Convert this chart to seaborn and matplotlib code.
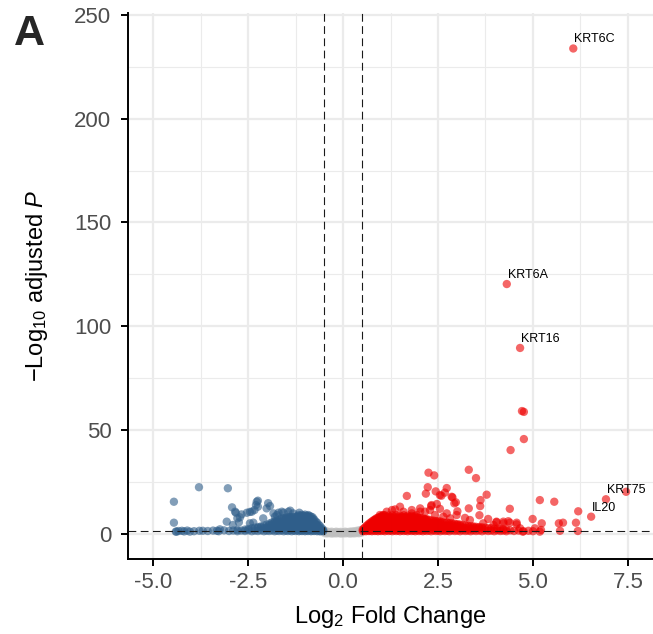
#!/usr/bin/env python

import pandas as pd
import matplotlib
matplotlib.use('Agg')
import seaborn as sns
import matplotlib.pyplot as plt

# thresholds used for the dashed guide lines
lfc_cut = 0.5
padj_line = 1.3  # -log10(0.05)

# labelled genes (log2 fold change, -log10 adjusted p)
gene_names = ['KRT6C', 'KRT6A', 'KRT16', 'KRT75', 'IL20']
gene_lfc = [6.06, 4.31, 4.66, 6.92, 6.53]
gene_logp = [233.8, 120.3, 89.5, 16.6, 8.2]

# other up-regulated genes away from the main cloud
up_lfc = [4.71, 4.76, 4.76, 4.41, 7.45, 6.19, 5.18, 5.56, 5.23, 5.21, 5.68, 5.79, 5.71, 6.13, 6.18,
          2.25, 2.40, 3.31, 3.50, 2.23, 2.73, 2.18, 2.44, 2.59, 1.68, 2.88, 3.78, 3.62, 2.97,
          1.50, 2.47, 2.32, 2.55, 3.01, 3.31, 3.61, 4.39, 1.29, 3.21, 3.59, 3.82, 4.04, 4.35,
          4.57, 4.99, 5.05, 5.18, 4.73, 0.97, 1.15, 1.37, 1.59, 1.81, 2.03, 2.16, 1.94, 2.29,
          2.42, 2.64, 2.82, 2.99, 2.73, 3.34, 3.69, 3.96, 4.22, 2.55, 2.68, 1.06, 2.33, 4.66,
          4.39, 4.57, 4.04, 4.22, 2.03, 1.81, 2.86, 2.93]
up_logp = [59.1, 58.7, 45.6, 40.3, 20.2, 10.8, 16.2, 15.4, 5.0, 1.8, 5.0, 5.3, 1.4, 5.3, 1.3,
           29.4, 28.1, 30.8, 26.8, 22.4, 22.0, 19.3, 20.4, 18.3, 18.2, 17.5, 18.8, 16.2, 15.1,
           13.0, 14.3, 13.3, 12.0, 10.8, 12.2, 13.3, 12.0, 11.4, 7.6, 8.9, 7.1, 5.5, 6.0,
           4.5, 7.1, 2.6, 1.0, 1.0, 9.0, 10.6, 11.7, 10.6, 11.4, 12.2, 10.6, 9.0, 11.4,
           9.0, 8.2, 7.4, 9.0, 9.8, 6.6, 5.0, 4.2, 5.0, 18.6, 19.8, 9.0, 13.8, 2.6,
           5.3, 5.3, 5.8, 5.8, 10.6, 9.8, 17.8, 14.6]

# dense up-regulated cloud, one entry per fold-change column
up_band = [
    (0.52, [1.2, 2.0]), (0.56, [1.5, 2.7]), (0.60, [1.2, 2.5, 3.5]),
    (0.64, [1.6, 2.9, 4.1]), (0.68, [1.3, 2.6, 3.9, 4.8]), (0.72, [1.5, 2.8, 4.1, 5.3]),
    (0.76, [1.2, 2.5, 3.8, 5.1, 5.9]), (0.80, [1.6, 2.9, 4.2, 5.5, 6.4]),
    (0.84, [1.3, 2.6, 3.9, 5.2, 6.5, 6.9]), (0.88, [1.5, 2.8, 4.1, 5.4, 6.7, 7.4]),
    (0.92, [1.2, 2.5, 3.8, 5.1, 6.4, 7.7]), (0.96, [1.6, 2.9, 4.2, 5.5, 6.8, 8.0]),
    (1.00, [1.3, 2.6, 3.9, 5.2, 6.5, 7.8, 8.4]), (1.05, [1.5, 2.8, 4.1, 5.4, 6.7, 8.0, 8.7]),
    (1.10, [1.2, 2.5, 3.8, 5.1, 6.4, 7.7, 8.9]), (1.15, [1.6, 2.9, 4.2, 5.5, 6.8, 8.1]),
    (1.20, [1.3, 2.6, 3.9, 5.2, 6.5, 7.8, 8.8]), (1.25, [1.5, 2.8, 4.1, 5.4, 6.7, 8.0]),
    (1.30, [1.2, 2.5, 3.8, 5.1, 6.4, 7.7, 8.9]), (1.35, [1.6, 2.9, 4.2, 5.5, 6.8, 8.1]),
    (1.40, [1.3, 2.6, 3.9, 5.2, 6.5, 7.8, 9.0]), (1.45, [1.5, 2.8, 4.1, 5.4, 6.7, 8.0]),
    (1.50, [1.2, 2.5, 3.8, 5.1, 6.4, 7.7, 8.8]), (1.55, [1.6, 2.9, 4.2, 5.5, 6.8, 8.1]),
    (1.60, [1.3, 2.6, 3.9, 5.2, 6.5, 7.8, 8.9]), (1.65, [1.5, 2.8, 4.1, 5.4, 6.7, 8.0]),
    (1.70, [1.2, 2.5, 3.8, 5.1, 6.4, 7.7, 8.7]), (1.75, [1.6, 2.9, 4.2, 5.5, 6.8, 8.1]),
    (1.80, [1.3, 2.6, 3.9, 5.2, 6.5, 7.8, 8.6]), (1.85, [1.5, 2.8, 4.1, 5.4, 6.7, 7.9]),
    (1.90, [1.2, 2.5, 3.8, 5.1, 6.4, 7.7, 8.4]), (1.95, [1.6, 2.9, 4.2, 5.5, 6.8, 7.8]),
    (2.00, [1.3, 2.6, 3.9, 5.2, 6.5, 7.6]), (2.05, [1.5, 2.8, 4.1, 5.4, 6.7, 7.5]),
    (2.10, [1.2, 2.5, 3.8, 5.1, 6.4, 7.3]), (2.15, [1.6, 2.9, 4.2, 5.5, 6.8, 7.2]),
    (2.20, [1.3, 2.6, 3.9, 5.2, 6.5, 7.0]), (2.26, [1.5, 2.8, 4.1, 5.4, 6.7]),
    (2.32, [1.2, 2.5, 3.8, 5.1, 6.4]), (2.38, [1.6, 2.9, 4.2, 5.5, 6.3]),
    (2.44, [1.3, 2.6, 3.9, 5.2, 6.1]), (2.50, [1.5, 2.8, 4.1, 5.4, 6.0]),
    (2.56, [1.2, 2.5, 3.8, 5.1, 5.9]), (2.62, [1.6, 2.9, 4.2, 5.5]),
    (2.68, [1.3, 2.6, 3.9, 5.2]), (2.74, [1.5, 2.8, 4.1, 5.4]),
    (2.80, [1.2, 2.5, 3.8, 5.1]), (2.87, [1.6, 2.9, 4.2, 5.0]),
    (2.94, [1.3, 2.6, 3.9, 4.8]), (3.01, [1.5, 2.8, 4.1, 4.6]),
    (3.08, [1.2, 2.5, 3.8, 4.4]), (3.15, [1.6, 2.9, 4.2]),
    (3.22, [1.3, 2.6, 3.9]), (3.29, [1.5, 2.8, 3.8]), (3.36, [1.2, 2.5, 3.6]),
    (3.43, [1.6, 2.9, 3.5]), (3.50, [1.3, 2.6, 3.3]), (3.58, [1.5, 2.8, 3.2]),
    (3.66, [1.2, 2.5, 3.1]), (3.74, [1.6, 2.9]), (3.82, [1.3, 2.6]), (3.90, [1.5, 2.7]),
    (3.98, [1.2, 2.4]), (4.06, [1.6, 2.4]), (4.14, [1.3, 2.2]), (4.22, [1.5, 2.2]),
    (4.30, [1.2, 2.0]), (4.40, [1.6]), (4.50, [1.3]), (4.62, [1.5]), (4.75, [1.2]),
    (4.88, [1.4]), (5.00, [1.2]),
]

# down-regulated genes away from the main cloud
down_lfc = [-4.45, -4.45, -3.79, -3.03, -2.92, -2.82, -2.67, -2.53, -2.45, -2.24, -2.29,
            -2.33, -1.97, -2.01, -1.92, -2.78, -2.74, -3.06, -2.90, -2.45, -2.10, -1.83,
            -1.70, -1.61, -1.44, -1.31, -1.15, -1.79, -2.27, -2.24, -2.84, -2.40, -1.57,
            -1.39, -1.74, -2.71, -2.36, -4.38, -4.24, -4.03, -3.69, -3.32, -3.24]
down_logp = [15.4, 5.3, 22.4, 21.9, 12.7, 10.1, 9.3, 10.1, 10.5, 15.9, 13.8,
             11.4, 14.7, 12.2, 13.3, 7.4, 5.5, 5.8, 4.2, 5.0, 7.4, 9.8,
             10.1, 10.6, 10.6, 9.8, 10.1, 8.2, 15.4, 13.0, 10.6, 10.6, 10.1,
             11.1, 9.0, 7.9, 5.3, 1.0, 1.4, 1.0, 1.4, 1.4, 2.1]

# dense down-regulated cloud
down_band = [
    (-0.52, [1.2, 1.8]), (-0.56, [1.4, 2.6]), (-0.60, [1.1, 2.4, 3.6]),
    (-0.64, [1.5, 2.9, 4.3]), (-0.68, [1.2, 2.6, 4.0, 5.3]), (-0.72, [1.6, 3.0, 4.4, 5.9]),
    (-0.76, [1.3, 2.7, 4.1, 5.5, 6.9]), (-0.80, [1.5, 2.9, 4.3, 5.7, 7.1, 7.9]),
    (-0.84, [1.2, 2.6, 4.0, 5.4, 6.8, 8.2]), (-0.88, [1.6, 3.0, 4.4, 5.8, 7.2, 8.6]),
    (-0.92, [1.3, 2.7, 4.1, 5.5, 6.9, 8.3, 9.0]), (-0.96, [1.5, 2.9, 4.3, 5.7, 7.1, 8.5]),
    (-1.00, [1.2, 2.6, 4.0, 5.4, 6.8, 8.2, 9.2]), (-1.04, [1.6, 3.0, 4.4, 5.8, 7.2, 8.6]),
    (-1.08, [1.3, 2.7, 4.1, 5.5, 6.9, 8.3, 9.1]), (-1.12, [1.5, 2.9, 4.3, 5.7, 7.1, 8.5]),
    (-1.16, [1.2, 2.6, 4.0, 5.4, 6.8, 8.2, 9.0]), (-1.20, [1.6, 3.0, 4.4, 5.8, 7.2, 8.4]),
    (-1.25, [1.3, 2.7, 4.1, 5.5, 6.9, 8.1]), (-1.30, [1.5, 2.9, 4.3, 5.7, 7.1, 7.9]),
    (-1.35, [1.2, 2.6, 4.0, 5.4, 6.8, 8.0]), (-1.40, [1.6, 3.0, 4.4, 5.8, 7.2, 8.0]),
    (-1.45, [1.3, 2.7, 4.1, 5.5, 6.9, 7.9]), (-1.50, [1.5, 2.9, 4.3, 5.7, 7.1, 7.8]),
    (-1.56, [1.2, 2.6, 4.0, 5.4, 6.8, 7.5]), (-1.62, [1.6, 3.0, 4.4, 5.8, 7.2]),
    (-1.68, [1.3, 2.7, 4.1, 5.5, 6.8]), (-1.74, [1.5, 2.9, 4.3, 5.7, 6.4]),
    (-1.80, [1.2, 2.6, 4.0, 5.4, 6.0]), (-1.87, [1.6, 3.0, 4.4, 5.4]),
    (-1.94, [1.3, 2.7, 4.1, 4.9]), (-2.01, [1.5, 2.9, 4.3]), (-2.08, [1.2, 2.6, 3.9]),
    (-2.16, [1.6, 3.0, 3.5]), (-2.24, [1.3, 2.7, 3.2]), (-2.32, [1.5, 2.9]),
    (-2.40, [1.2, 2.6]), (-2.49, [1.6, 2.3]), (-2.58, [1.3, 2.0]), (-2.68, [1.5]),
    (-2.78, [1.2, 1.8]), (-2.89, [1.5]), (-3.00, [1.3]), (-3.13, [1.6]), (-3.27, [1.2]),
    (-3.42, [1.5]), (-3.56, [1.3]), (-3.78, [1.4]), (-3.92, [1.2]), (-4.10, [1.5]),
    (-4.18, [1.1]), (-4.33, [1.3]), (-4.40, [1.0]),
]

# not significant / small fold change
ns_band = [
    (-0.48, [0.2, 0.8, 1.5]), (-0.42, [0.1, 0.6, 1.1]), (-0.36, [0.3, 0.8]),
    (-0.30, [0.0, 0.5, 1.0]), (-0.24, [0.2, 0.7]), (-0.18, [0.1, 0.6, 1.0]),
    (-0.12, [0.3, 0.8]), (-0.06, [0.0, 0.5, 0.9]), (0.00, [0.2, 0.7]),
    (0.06, [0.1, 0.6, 1.0]), (0.12, [0.3, 0.8]), (0.18, [0.0, 0.5, 1.0]),
    (0.24, [0.2, 0.7, 1.1]), (0.30, [0.1, 0.6, 1.2]), (0.36, [0.3, 0.9, 1.4]),
    (0.42, [0.2, 0.8, 1.6]), (0.48, [0.4, 1.1, 1.9]),
]

rows = []
for lfc, ys in ns_band:
    rows += [(lfc, y, 'ns') for y in ys]
for lfc, ys in down_band:
    rows += [(lfc, y, 'down') for y in ys]
rows += [(x, y, 'down') for x, y in zip(down_lfc, down_logp)]
for lfc, ys in up_band:
    rows += [(lfc, y, 'up') for y in ys]
rows += [(x, y, 'up') for x, y in zip(up_lfc, up_logp)]
rows += [(x, y, 'up') for x, y in zip(gene_lfc, gene_logp)]
df = pd.DataFrame(rows, columns=['log2FoldChange', 'padj', 'group'])

sns.set_theme(style='white')
plt.rcParams['font.family'] = ['Liberation Sans', 'DejaVu Sans']
plt.rcParams['mathtext.fontset'] = 'custom'
plt.rcParams['mathtext.rm'] = 'Liberation Sans'
plt.rcParams['mathtext.it'] = 'Liberation Sans:italic'

fig = plt.figure(figsize=(6.53, 6.34), dpi=100)
ax = fig.add_axes([128 / 653, 75.5 / 634, 525 / 653, 545.5 / 634])

palette = {'ns': '#BEBEBE', 'down': '#2F5E8A', 'up': '#EE0000'}
sns.scatterplot(data=df, x='log2FoldChange', y='padj', hue='group', palette=palette,
                s=36, alpha=0.6, linewidth=0, legend=False, ax=ax, zorder=2)

for x in (-lfc_cut, lfc_cut):
    ax.axvline(x, color='#1a1a1a', lw=0.8, ls=(0, (7, 4)), zorder=3)
ax.axhline(padj_line, color='#1a1a1a', lw=0.8, ls=(0, (7, 4)), zorder=3)

for name, x, y in zip(gene_names, gene_lfc, gene_logp):
    ax.annotate(name, (x, y), xytext=(1, 6), textcoords='offset pixels',
                fontsize=9, ha='left', va='baseline', color='black', zorder=4)

ax.set_xlim(-5.658, 8.158)
ax.set_ylim(-11.95, 250.9)
ax.set_xticks([-5, -2.5, 0, 2.5, 5, 7.5])
ax.set_xticklabels(['-5.0', '-2.5', '0.0', '2.5', '5.0', '7.5'])
ax.set_xticks([-3.75, -1.25, 1.25, 3.75, 6.25], minor=True)
ax.set_yticks([0, 50, 100, 150, 200, 250])
ax.set_yticks([25, 75, 125, 175, 225], minor=True)
ax.grid(which='major', color='#EBEBEB', lw=1.6)
ax.grid(which='minor', color='#EBEBEB', lw=0.8)
ax.set_axisbelow(True)

for side in ('top', 'right'):
    ax.spines[side].set_visible(False)
for side in ('left', 'bottom'):
    ax.spines[side].set_color('black')
    ax.spines[side].set_linewidth(1.4)

ax.tick_params(which='major', length=5, width=1.4, color='black', labelsize=16,
               labelcolor='#4D4D4D', left=True, bottom=True)
ax.tick_params(axis='x', pad=5)
ax.tick_params(axis='y', pad=7)
ax.tick_params(which='minor', length=0)

ax.set_xlabel('Log$_{2}$ Fold Change', fontsize=17, color='black')
ax.set_ylabel('$-$Log$_{10}$ adjusted $\\mathit{P}$', fontsize=17, color='black', va='center')
ax.xaxis.set_label_coords(0.5, -0.083)
ax.yaxis.set_label_coords(-0.173, 0.5)

fig.text(14 / 653, 1 - 45 / 634, 'A', fontsize=31, fontweight='bold', ha='left', va='baseline')

fig.savefig('out.png', dpi=100)
plt.close()
